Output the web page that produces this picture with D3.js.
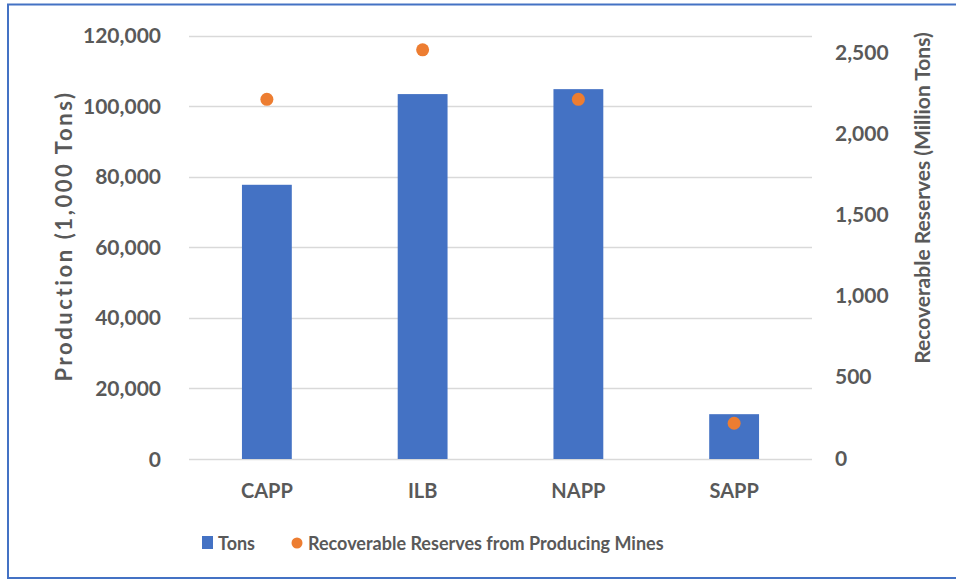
<!DOCTYPE html>
<meta charset="utf-8">
<style>
body { margin: 0; background: #fff; }
text { font-family: Lato, "Open Sans", sans-serif; font-weight: bold; fill: #595959; }
.grid line { stroke: #d9d9d9; stroke-width: 1.3px; }
</style>
<body>
<script src="https://cdn.jsdelivr.net/npm/d3@7"></script>
<script>

var width = 956,
    height = 583;

// data
var regions = ["CAPP", "ILB", "NAPP", "SAPP"];
var tons = [77700, 103400, 104800, 12700];          // production, 1,000 tons
var reserves = [2215, 2520, 2215, 220];             // million tons
var leftTicks = [0, 20000, 40000, 60000, 80000, 100000, 120000];
var rightTicks = [0, 500, 1000, 1500, 2000, 2500];

var plot = {left: 189, right: 812, top: 35.5, bottom: 459};

var svg = d3.select("body").append("svg")
    .attr("width", width)
    .attr("height", height);

// outer frame
svg.append("rect")
    .attr("x", 8).attr("y", 4.5)
    .attr("width", width + 10).attr("height", 573.5)
    .attr("fill", "none")
    .attr("stroke", "#4472c4")
    .attr("stroke-width", 2);

var x = d3.scaleBand()
    .domain(regions)
    .range([plot.left, plot.right]);

var y = d3.scaleLinear()
    .domain([0, 120000])
    .range([plot.bottom, plot.top]);

// secondary axis does not line up with the gridlines in the original
var y2 = d3.scaleLinear()
    .domain([0, 2608])
    .range([plot.bottom, plot.top]);

var fmt = d3.format(",");

// gridlines
svg.append("g")
    .attr("class", "grid")
    .selectAll("line")
    .data(leftTicks)
  .enter().append("line")
    .attr("x1", plot.left).attr("x2", plot.right)
    .attr("y1", function(d) { return Math.round(y(d)) + 0.5; })
    .attr("y2", function(d) { return Math.round(y(d)) + 0.5; });

// left axis labels
svg.append("g")
    .selectAll("text")
    .data(leftTicks)
  .enter().append("text")
    .attr("x", 161)
    .attr("y", function(d) { return y(d); })
    .attr("dy", "0.36em")
    .attr("text-anchor", "end")
    .style("font-size", "21px")
    .text(fmt);

// right axis labels
svg.append("g")
    .selectAll("text")
    .data(rightTicks)
  .enter().append("text")
    .attr("x", 835)
    .attr("y", function(d) { return y2(d) - 1; })
    .attr("dy", "0.36em")
    .attr("text-anchor", "start")
    .style("font-size", "21px")
    .text(fmt);

// bars
var bw = x.bandwidth() * 0.32;
svg.append("g")
    .selectAll("rect")
    .data(regions)
  .enter().append("rect")
    .attr("x", function(d) { return x(d) + (x.bandwidth() - bw) / 2; })
    .attr("y", function(d, i) { return y(tons[i]); })
    .attr("width", bw)
    .attr("height", function(d, i) { return plot.bottom - y(tons[i]); })
    .attr("fill", "#4472c4");

// reserve markers
svg.append("g")
    .selectAll("circle")
    .data(regions)
  .enter().append("circle")
    .attr("cx", function(d) { return x(d) + x.bandwidth() / 2; })
    .attr("cy", function(d, i) { return y2(reserves[i]); })
    .attr("r", 6.5)
    .attr("fill", "#ed7d31");

// category labels
svg.append("g")
    .selectAll("text")
    .data(regions)
  .enter().append("text")
    .attr("x", function(d) { return x(d) + x.bandwidth() / 2; })
    .attr("y", 498)
    .attr("text-anchor", "middle")
    .style("font-size", "20px")
    .text(function(d) { return d; });

// axis titles
svg.append("text")
    .attr("transform", "translate(72,236) rotate(-90)")
    .attr("text-anchor", "middle")
    .style("font-size", "22px")
    .style("letter-spacing", "2.6px")
    .text("Production (1,000 Tons)");

svg.append("text")
    .attr("transform", "translate(930,198) rotate(-90)")
    .attr("text-anchor", "middle")
    .style("font-size", "21px")
    .text("Recoverable Reserves (Million Tons)");

// legend
var legend = svg.append("g");
legend.append("rect")
    .attr("x", 202).attr("y", 536)
    .attr("width", 11).attr("height", 13)
    .attr("fill", "#4472c4");
legend.append("text")
    .attr("x", 218).attr("y", 550)
    .style("font-size", "18px")
    .text("Tons");
legend.append("circle")
    .attr("cx", 297).attr("cy", 543)
    .attr("r", 5.5)
    .attr("fill", "#ed7d31");
legend.append("text")
    .attr("x", 308).attr("y", 550)
    .style("font-size", "18px")
    .text("Recoverable Reserves from Producing Mines");

</script>
</body>
